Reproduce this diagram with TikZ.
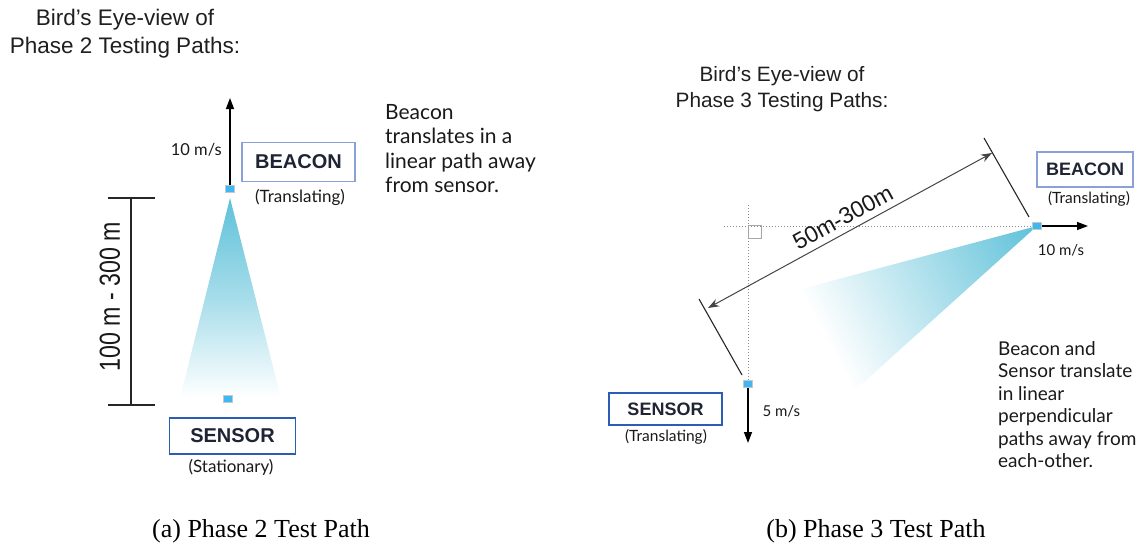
\documentclass[tikz,border=0pt]{standalone}
\usepackage{fontspec}
\setmainfont{Liberation Serif}
\newfontfamily\arialf{Liberation Sans}
\newfontfamily\latof{Lato}
\usetikzlibrary{arrows.meta}
\definecolor{conecyan}{HTML}{5EC1D9}
\definecolor{dotblue}{HTML}{3DB8F2}
\definecolor{lightframe}{HTML}{8CA0D8}
\definecolor{darkframe}{HTML}{2B5DB4}
\definecolor{ink}{HTML}{1E2433}
\definecolor{dimgray}{HTML}{444444}
\newcommand{\fsz}[2]{\fontsize{#1}{#2}\selectfont}

\begin{document}
\begin{tikzpicture}[x=1pt,y=-1pt,
  marker/.style={draw=black!22, fill=dotblue, minimum width=9pt, minimum height=7pt, inner sep=0pt, line width=0.8pt},
  labelbox/.style={draw, line width=1.5pt, inner sep=0pt, text=ink},
  title/.style={align=center, text=black!88},
  speed/.style={font=\latof\fsz{16.5}{20}, text=black!90, inner sep=0pt},
  motion/.style={line width=1.4pt, -{Triangle[length=11pt,width=8pt]}},
  note/.style={anchor=north west, align=left, inner sep=0pt, text=black!90},
  dimline/.style={line width=1.1pt, black!85},
  guide/.style={dotted, line width=1pt, black!45},
]
\useasboundingbox (0,0) rectangle (1136,546);

% ---------------- Phase 2: straight-line path ----------------
\node[title, font=\arialf\fsz{22.5}{28}] (t2) at (125,34) {Bird’s Eye-view of\\Phase 2 Testing Paths:};

% signal cone from beacon towards sensor
\shade[top color=conecyan, bottom color=white, middle color=conecyan!55] (230,198) -- (281,398) -- (180,398) -- cycle;

\node[marker] (b2) at (230,189) {};
\node[marker] (s2) at (228,399) {};
\coordinate (b2tip) at (230,98);
\draw[motion] (b2.north) -- (b2tip);
\node[speed, anchor=east] (v2) at (222,150) {10 m/s};

\node[labelbox, draw=lightframe, minimum width=113pt, minimum height=39pt,
      font=\arialf\bfseries\fsz{20}{24}] (beacon2) at (298.5,162) {BEACON};
\node[font=\latof\fsz{17}{20}, text=black!90] (tr2) at (300,197) {(Translating)};

% range bar
\coordinate (d2a) at (131,198);
\coordinate (d2b) at (131,405);
\draw[dimline] (d2a) -- (d2b);
\draw[dimline] (108,198) -- (155,198);
\draw[dimline] (108,405) -- (155,405);
\node[rotate=90, xscale=0.8, font=\arialf\fsz{29}{32}, text=black!90] (r2) at (110,297) {100 m - 300 m};

\node[labelbox, draw=darkframe, minimum width=126pt, minimum height=36pt,
      font=\arialf\bfseries\fsz{20}{24}] (sensor2) at (232.5,436) {SENSOR};
\node[font=\latof\fsz{17}{20}, text=black!90] (st2) at (231,467) {(Stationary)};

\node[note, font=\latof\fsz{21}{24.4}] (n2) at (385,104) {Beacon\\translates in a\\linear path away\\from sensor.};

\node[font=\fsz{26}{30}] (capa) at (261,531) {(a) Phase 2 Test Path};

% ---------------- Phase 3: perpendicular paths ----------------
\node[title, font=\arialf\fsz{20.8}{26}] (t3) at (782,89) {Bird’s Eye-view of\\Phase 3 Testing Paths:};

% signal cone from beacon, fading with distance along its axis
\begin{scope}
  \clip (1037,226) -- (775,296) -- (822,420) -- cycle;
  \begin{scope}[transform canvas={shift={(1037,226)}, rotate=28}]
    \shade[left color=white, right color=conecyan, middle color=conecyan!50] (-240,-180) rectangle (0,180);
  \end{scope}
\end{scope}

\node[marker] (b3) at (1037,226) {};
\node[marker] (s3) at (748,384) {};

\draw[guide] (724,226) -- (b3.west);
\draw[guide] (748,205) -- (s3.north);
\node[draw=black!35, line width=1pt, minimum size=13pt, inner sep=0pt, anchor=north west] (ra) at (748,225) {};

\coordinate (b3tip) at (1088,226);
\draw[motion] (b3.east) -- (b3tip);
\node[font=\latof\fsz{15}{18}, text=black!90] (v3) at (1061,250) {10 m/s};

\coordinate (s3tip) at (748,443);
\draw[motion] (s3.south) -- (s3tip);
\node[font=\latof\fsz{15}{18}, text=black!90, anchor=west] (w3) at (759,411) {5 m/s};

\node[labelbox, draw=lightframe, minimum width=96pt, minimum height=35pt,
      font=\arialf\bfseries\fsz{18}{22}] (beacon3) at (1085,169.5) {BEACON};
\node[font=\latof\fsz{15.5}{18}, text=black!90] (tr3) at (1089,199) {(Translating)};

\node[labelbox, draw=darkframe, minimum width=113pt, minimum height=32pt,
      font=\arialf\bfseries\fsz{18}{22}] (sensor3) at (665.5,409) {SENSOR};
\node[font=\latof\fsz{15.5}{18}, text=black!90] (ts3) at (666,437) {(Translating)};

% separation distance
\draw[dimline] (984,138) -- (1029,217);
\draw[dimline] (699,299) -- (742,375);
\coordinate (d3a) at (708,308);
\coordinate (d3b) at (992,153);
\draw[line width=1pt, dimgray, {Stealth[length=11pt,width=8pt]}-{Stealth[length=11pt,width=8pt]}]
  (d3a) -- node[midway, sloped, above=3pt, font=\arialf\fsz{23}{26}, text=black!90] (r3) {50m-300m} (d3b);

\node[note, font=\latof\fsz{19}{22.5}] (n3) at (998,341) {Beacon and\\Sensor translate\\in linear\\perpendicular\\paths away from\\each-other.};

\node[font=\fsz{26}{30}] (capb) at (876,531) {(b) Phase 3 Test Path};
\end{tikzpicture}
\end{document}
